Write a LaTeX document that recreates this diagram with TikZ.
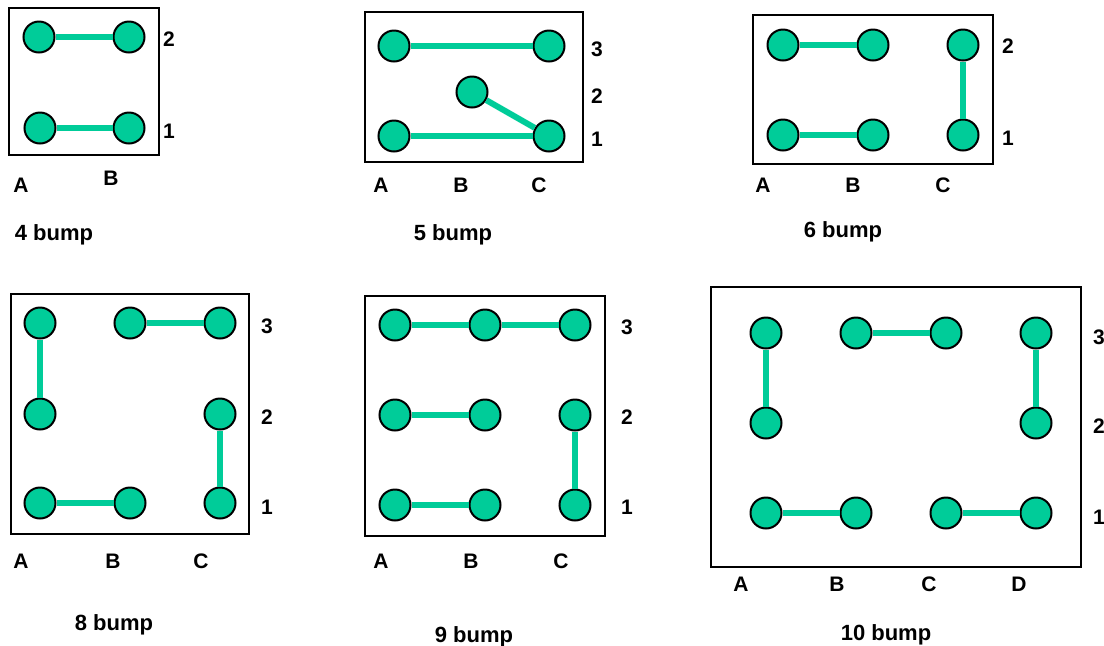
\documentclass[tikz,border=0pt]{standalone}
\usepackage{fontspec}
\setmainfont{Liberation Sans}
\definecolor{bumpgreen}{HTML}{00CC99}
\tikzset{>=stealth}
\tikzset{
  bump/.style={circle, draw, line width=1pt, fill=bumpgreen, minimum size=15.5pt, inner sep=0pt},
  trace/.style={line width=3pt, bumpgreen},
  frame/.style={line width=1pt},
  tag/.style={font=\fontsize{10.5}{12}\selectfont\bfseries, inner sep=0pt},
  title/.style={font=\fontsize{11}{13}\selectfont\bfseries, inner sep=0pt, anchor=base}
}

\begin{document}
\begin{tikzpicture}[x=0.5pt, y=-0.5pt]
    \useasboundingbox (0,0) rectangle (1104,645);

    % 4 bump
    \draw[frame] (9,8) rectangle (159,155);
    \node[bump] (p4a2) at (39,37) {};
    \node[bump] (p4b2) at (129,37) {};
    \node[bump] (p4a1) at (40,128) {};
    \node[bump] (p4b1) at (129,128) {};
    \draw[trace] (p4a2) -- (p4b2);
    \draw[trace] (p4a1) -- (p4b1);
    \node[tag] (p4r2) at (169,39) {2};
    \node[tag] (p4r1) at (169,131) {1};
    \node[tag] (p4cA) at (21,185) {A};
    \node[tag] (p4cB) at (111,178) {B};
    \node[title] (p4t) at (54,240) {4 bump};

    % 5 bump
    \draw[frame] (365,12) rectangle (583,162);
    \node[bump] (p5a3) at (394,46) {};
    \node[bump] (p5c3) at (549,46) {};
    \node[bump] (p5b2) at (472,92) {};
    \node[bump] (p5a1) at (394,136) {};
    \node[bump] (p5c1) at (549,136) {};
    \draw[trace] (p5a3) -- (p5c3);
    \draw[trace] (p5b2) -- (p5c1);
    \draw[trace] (p5a1) -- (p5c1);
    \node[tag] (p5r3) at (597,49) {3};
    \node[tag] (p5r2) at (597,96) {2};
    \node[tag] (p5r1) at (597,139) {1};
    \node[tag] (p5cA) at (381,185) {A};
    \node[tag] (p5cB) at (461,185) {B};
    \node[tag] (p5cC) at (539,185) {C};
    \node[title] (p5t) at (453,240) {5 bump};

    % 6 bump
    \draw[frame] (753,15) rectangle (993,164);
    \node[bump] (p6a2) at (783,45) {};
    \node[bump] (p6b2) at (873,45) {};
    \node[bump] (p6c2) at (963,45) {};
    \node[bump] (p6a1) at (783,135) {};
    \node[bump] (p6b1) at (873,135) {};
    \node[bump] (p6c1) at (963,135) {};
    \draw[trace] (p6a2) -- (p6b2);
    \draw[trace] (p6c2) -- (p6c1);
    \draw[trace] (p6a1) -- (p6b1);
    \node[tag] (p6r2) at (1008,46) {2};
    \node[tag] (p6r1) at (1008,138) {1};
    \node[tag] (p6cA) at (763,185) {A};
    \node[tag] (p6cB) at (853,185) {B};
    \node[tag] (p6cC) at (943,185) {C};
    \node[title] (p6t) at (843,237) {6 bump};

    % 8 bump
    \draw[frame] (11,294) rectangle (249,534);
    \node[bump] (p8a3) at (40,323) {};
    \node[bump] (p8b3) at (130,323) {};
    \node[bump] (p8c3) at (220,323) {};
    \node[bump] (p8a2) at (40,414) {};
    \node[bump] (p8c2) at (220,414) {};
    \node[bump] (p8a1) at (40,503) {};
    \node[bump] (p8b1) at (130,503) {};
    \node[bump] (p8c1) at (220,503) {};
    \draw[trace] (p8a3) -- (p8a2);
    \draw[trace] (p8b3) -- (p8c3);
    \draw[trace] (p8c2) -- (p8c1);
    \draw[trace] (p8a1) -- (p8b1);
    \node[tag] (p8r3) at (267,326) {3};
    \node[tag] (p8r2) at (267,417) {2};
    \node[tag] (p8r1) at (267,507) {1};
    \node[tag] (p8cA) at (21,561) {A};
    \node[tag] (p8cB) at (113,561) {B};
    \node[tag] (p8cC) at (201,561) {C};
    \node[title] (p8t) at (114,630) {8 bump};

    % 9 bump
    \draw[frame] (365,296) rectangle (605,536);
    \node[bump] (p9a3) at (395,325) {};
    \node[bump] (p9b3) at (485,325) {};
    \node[bump] (p9c3) at (575,325) {};
    \node[bump] (p9a2) at (395,415) {};
    \node[bump] (p9b2) at (485,415) {};
    \node[bump] (p9c2) at (575,415) {};
    \node[bump] (p9a1) at (395,505) {};
    \node[bump] (p9b1) at (485,505) {};
    \node[bump] (p9c1) at (575,505) {};
    \draw[trace] (p9a3) -- (p9b3) -- (p9c3);
    \draw[trace] (p9a2) -- (p9b2);
    \draw[trace] (p9c2) -- (p9c1);
    \draw[trace] (p9a1) -- (p9b1);
    \node[tag] (p9r3) at (627,327) {3};
    \node[tag] (p9r2) at (627,417) {2};
    \node[tag] (p9r1) at (627,507) {1};
    \node[tag] (p9cA) at (381,561) {A};
    \node[tag] (p9cB) at (471,561) {B};
    \node[tag] (p9cC) at (561,561) {C};
    \node[title] (p9t) at (474,642) {9 bump};

    % 10 bump
    \draw[frame] (711,287) rectangle (1081,567);
    \node[bump] (p10a3) at (766,333) {};
    \node[bump] (p10b3) at (856,333) {};
    \node[bump] (p10c3) at (946,333) {};
    \node[bump] (p10d3) at (1036,333) {};
    \node[bump] (p10a2) at (766,423) {};
    \node[bump] (p10d2) at (1036,423) {};
    \node[bump] (p10a1) at (766,513) {};
    \node[bump] (p10b1) at (856,513) {};
    \node[bump] (p10c1) at (946,513) {};
    \node[bump] (p10d1) at (1036,513) {};
    \draw[trace] (p10a3) -- (p10a2);
    \draw[trace] (p10b3) -- (p10c3);
    \draw[trace] (p10d3) -- (p10d2);
    \draw[trace] (p10a1) -- (p10b1);
    \draw[trace] (p10c1) -- (p10d1);
    \node[tag] (p10r3) at (1099,337) {3};
    \node[tag] (p10r2) at (1099,426) {2};
    \node[tag] (p10r1) at (1099,517) {1};
    \node[tag] (p10cA) at (741,584) {A};
    \node[tag] (p10cB) at (837,584) {B};
    \node[tag] (p10cC) at (929,584) {C};
    \node[tag] (p10cD) at (1019,584) {D};
    \node[title] (p10t) at (886,640) {10 bump};
\end{tikzpicture}
\end{document}
